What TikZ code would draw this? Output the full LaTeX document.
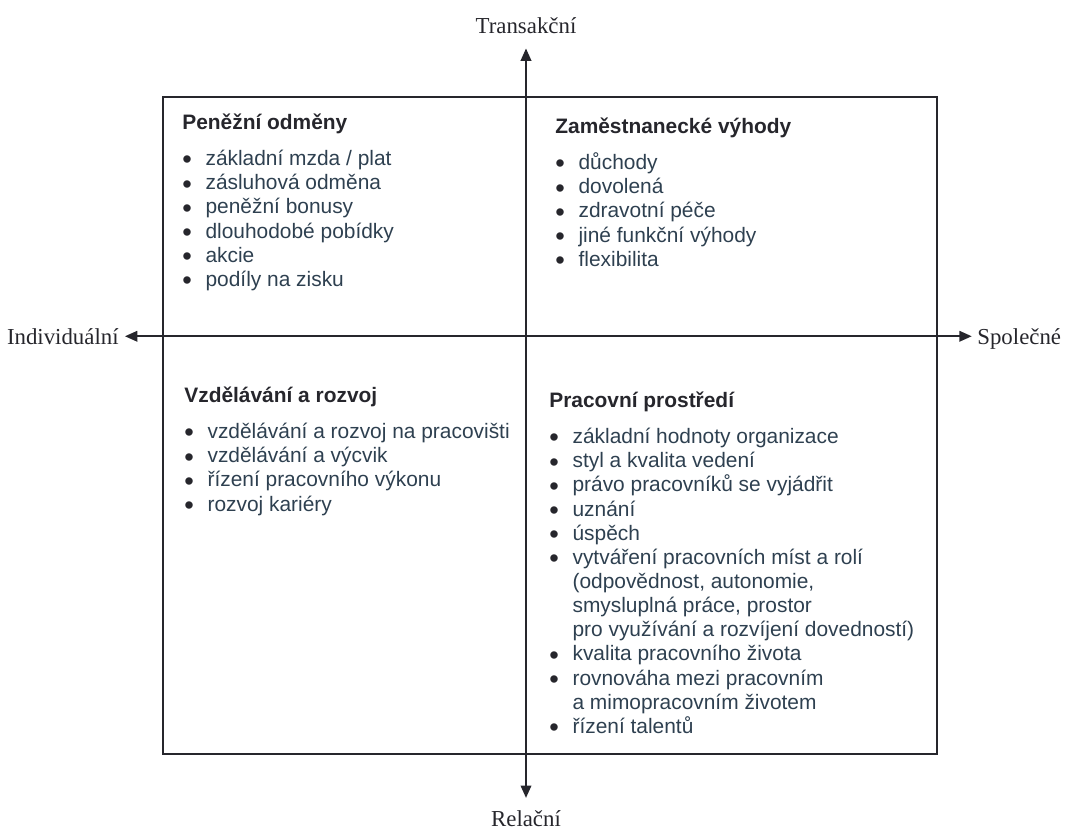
\documentclass[tikz,border=0pt]{standalone}
\usepackage{fontspec}
\setmainfont{Liberation Serif}
\newfontfamily\quadfont{Liberation Sans}
\usepackage{tikz}
\usetikzlibrary{positioning, arrows.meta}
\definecolor{ink}{RGB}{38,38,44}
\definecolor{itemink}{RGB}{46,64,80}
\tikzset{
  axis/.style={{Triangle[length=7pt,width=6pt]}-{Triangle[length=7pt,width=6pt]},
    line width=1pt,draw=ink},
  frame/.style={draw=ink,line width=1pt},
  pole/.style={font=\fontsize{13}{15}\selectfont,text=ink,inner sep=0pt,
    text height=10pt,text depth=1.2pt},
  head/.style={font=\quadfont\fontsize{11.9}{13.5}\selectfont\bfseries,text=ink,
    inner sep=0pt,anchor=base west},
  items/.style={font=\quadfont\fontsize{11.9}{13.75}\selectfont,text=itemink,
    inner sep=0pt,align=left},
}
\newcommand{\bl}{\smash{\raisebox{-0.3ex}{\textcolor{ink}{\scalebox{1.3}{\textbullet}}}} &}
\newenvironment{bulletlist}{\begin{tabular}{@{}l@{\hspace{7.8pt}}l@{}}}{\end{tabular}}

\begin{document}
\begin{tikzpicture}[x=0.02cm,y=-0.02cm]
  \useasboundingbox (0,0) rectangle (1089,832);
  % frame
  \draw[frame] (163,97) rectangle (937,754);
  % the two axes
  \node[pole,anchor=base] (trans) at (526,33) {Transakční};
  \node[pole,anchor=base] (rel) at (526,826) {Relační};
  \node[pole,anchor=base east] (ind) at (119,344) {Individuální};
  \node[pole,anchor=base west] (spol) at (977,344) {Společné};
  \draw[axis,shorten <=7.4pt,shorten >=5.8pt] (trans.south) -- (rel.north);
  \draw[axis,shorten <=3.4pt,shorten >=3pt] (ind.east) -- (spol.west);
  % top left
  \node[head] (h1) at (182,129) {Peněžní odměny};
  \node[items,below=8.3pt of h1.south west,anchor=north west] (l1) {%
    \begin{bulletlist}
      \bl základní mzda / plat\\
      \bl zásluhová odměna\\
      \bl peněžní bonusy\\
      \bl dlouhodobé pobídky\\
      \bl akcie\\
      \bl podíly na zisku
    \end{bulletlist}};
  % top right
  \node[head] (h2) at (555,133) {Zaměstnanecké výhody};
  \node[items,below=8.3pt of h2.south west,anchor=north west] (l2) {%
    \begin{bulletlist}
      \bl důchody\\
      \bl dovolená\\
      \bl zdravotní péče\\
      \bl jiné funkční výhody\\
      \bl flexibilita
    \end{bulletlist}};
  % bottom left
  \node[head] (h3) at (184,402) {Vzdělávání a rozvoj};
  \node[items,below=8.3pt of h3.south west,anchor=north west] (l3) {%
    \begin{bulletlist}
      \bl vzdělávání a rozvoj na pracovišti\\
      \bl vzdělávání a výcvik\\
      \bl řízení pracovního výkonu\\
      \bl rozvoj kariéry
    \end{bulletlist}};
  % bottom right
  \node[head] (h4) at (549,407) {Pracovní prostředí};
  \node[items,below=8.3pt of h4.south west,anchor=north west] (l4) {%
    \begin{bulletlist}
      \bl základní hodnoty organizace\\
      \bl styl a kvalita vedení\\
      \bl právo pracovníků se vyjádřit\\
      \bl uznání\\
      \bl úspěch\\
      \bl vytváření pracovních míst a rolí\\
          & (odpovědnost, autonomie,\\
          & smysluplná práce, prostor\\
          & pro využívání a rozvíjení dovedností)\\
      \bl kvalita pracovního života\\
      \bl rovnováha mezi pracovním\\
          & a mimopracovním životem\\
      \bl řízení talentů
    \end{bulletlist}};
\end{tikzpicture}
\end{document}
